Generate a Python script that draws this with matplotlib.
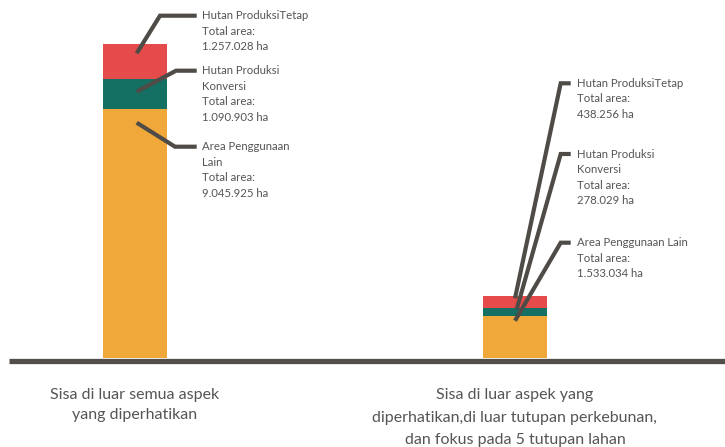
import matplotlib
matplotlib.use("Agg")
import matplotlib.pyplot as plt

# ---- data ----
categories = ["Sisa di luar semua aspek\nyang diperhatikan",
              "Sisa di luar aspek yang\ndiperhatikan,di luar tutupan perkebunan,\ndan fokus pada 5 tutupan lahan"]
series_names = ["Area Penggunaan Lain", "Hutan Produksi Konversi", "Hutan ProduksiTetap"]
apl = [9045925, 1533034]
hpk = [1090903, 278029]
hp = [1257028, 438256]
labels_bar1 = ["Area Penggunaan\nLain", "Hutan Produksi\nKonversi", "Hutan ProduksiTetap"]
labels_bar2 = ["Area Penggunaan Lain", "Hutan Produksi\nKonversi", "Hutan ProduksiTetap"]

colors = ["#f1a83b", "#137063", "#e64b4b"]
line_col = "#4f4b47"
text_col = "#555555"
plt.rcParams['font.family'] = ['Lato', 'DejaVu Sans']

W, H = 725, 447
fig = plt.figure(figsize=(W / 100, H / 100), dpi=100)
ax = fig.add_axes([0, 0, 1, 1])
ax.axis("off")

# pixel <-> data mapping (layout)
x0_px, step_px, base_px = 135, 380, 358
s = (apl[0] + hpk[0] + hp[0]) / 314.0
ax.set_xlim((0 - x0_px) / step_px, (W - x0_px) / step_px)
ax.set_ylim(-(H - base_px) * s, base_px * s)

def px(x, y):
    return (x - x0_px) / step_px, (base_px - y) * s

xs = [0, 1]
bw = 64 / step_px
b2 = [a + b for a, b in zip(apl, hpk)]
ax.bar(xs, apl, bw, color=colors[0], zorder=2)
ax.bar(xs, hpk, bw, bottom=apl, color=colors[1], zorder=2)
ax.bar(xs, hp, bw, bottom=b2, color=colors[2], zorder=2)

# baseline
bx0, by = px(9, 360.5)
bx1, _ = px(725, 360.5)
ax.plot([bx0, bx1], [by, by], color="#524e49", lw=3.8, solid_capstyle="butt", zorder=3)

def fmt(v):
    return f"{v:,}".replace(",", ".") + " ha"

# annotations: (start, elbow, end, text_x)
leaders = [
    # bar 1: apl, hpk, hp
    [((136.7, 122.7), (175, 146.7), (196.7, 146.7)),
     ((136.7, 91.7), (176, 70.7), (196.7, 70.7)),
     ((136.7, 53.3), (160, 15.7), (196.7, 15.7))],
    [((515, 320.7), (560.7, 242.7), (570.7, 242.7)),
     ((516.7, 309.3), (560.7, 154), (570.7, 154)),
     ((515, 298.3), (560.7, 83.3), (570.7, 83.3))],
]
text_x = [201.7, 577.3]
vals = [[apl[0], hpk[0], hp[0]], [apl[1], hpk[1], hp[1]]]
names = [labels_bar1, labels_bar2]
spacing = 15.6
for b in range(2):
    for k in range(3):
        pts = [px(*p) for p in leaders[b][k]]
        ax.plot([p[0] for p in pts], [p[1] for p in pts], color=line_col, lw=3.0,
                solid_capstyle="butt", solid_joinstyle="miter", zorder=4)
        lines = names[b][k].split("\n") + ["Total area:", fmt(vals[b][k])]
        y0 = leaders[b][k][2][1]
        for i, ln in enumerate(lines):
            tx, ty = px(text_x[b], y0 + i * spacing)
            ax.text(tx, ty, ln, fontsize=8.2, color=text_col, ha="left", va="center")

# category labels
cat_y = [[395, 415], [395, 418, 440]]
for b in range(2):
    for i, ln in enumerate(categories[b].split("\n")):
        tx, ty = px([135, 515][b], cat_y[b][i])
        ax.text(tx, ty, ln, fontsize=11.5, color=text_col, ha="center", va="center")

fig.savefig("out.png", dpi=100)
